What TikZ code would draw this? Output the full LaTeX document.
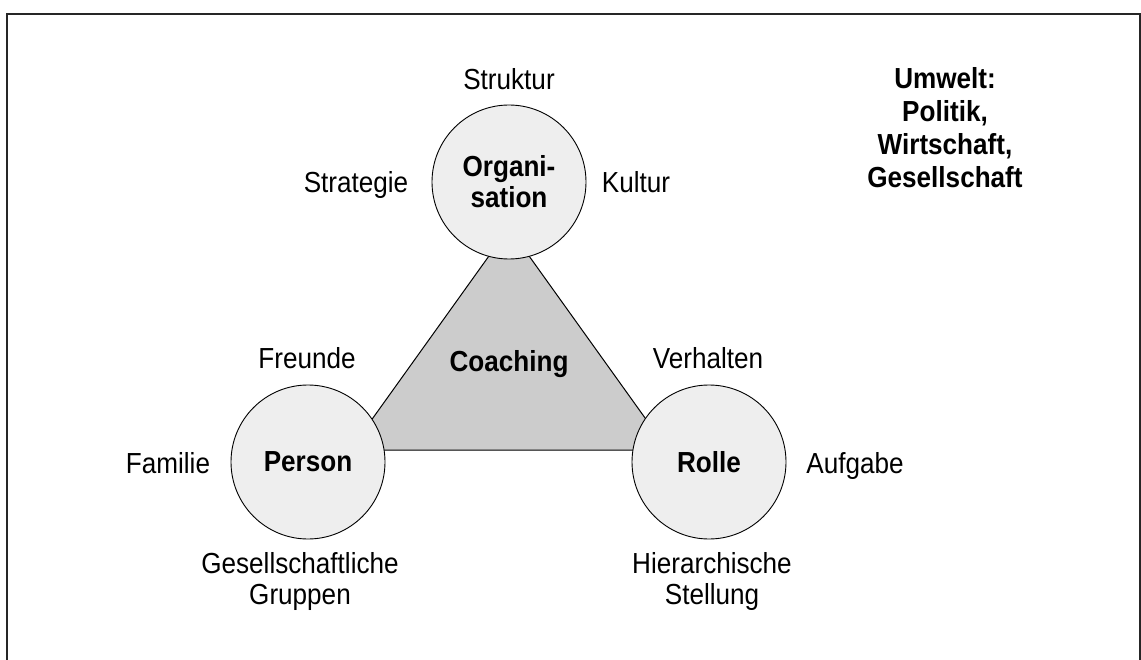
\documentclass[tikz,border=0pt]{standalone}
\usepackage{fontspec}
\setmainfont{Liberation Sans}[FakeStretch=0.9]
\usepackage{xcolor}
\usepackage{tikz}

\definecolor{kreisgrau}{HTML}{EEEEEE}
\definecolor{dreieckgrau}{HTML}{CCCCCC}

\begin{document}
\begin{tikzpicture}[x=1pt, y=-1pt,
    kreis/.style={circle, draw=black, line width=0.9pt, fill=kreisgrau,
        minimum size=154pt, inner sep=0pt, align=center,
        font=\fontsize{29}{31}\selectfont\bfseries},
    beschriftung/.style={inner sep=0pt, align=center,
        font=\fontsize{29}{31}\selectfont},
    fett/.style={inner sep=0pt, align=center,
        font=\fontsize{29}{33}\selectfont\bfseries}]
    \useasboundingbox (0,0) rectangle (1141,660);

    % Rahmen (unten offen)
    \draw[line width=2pt, black!85] (7,660) -- (7,14) -- (1140,14) -- (1140,660);

    % Dreieck Coaching
    \coordinate (spitze) at (509,228);
    \coordinate (links) at (350,450);
    \coordinate (rechts) at (668,450);
    \draw[fill=dreieckgrau, line width=1pt] (spitze) -- (links) -- (rechts) -- cycle;
    \node[fett, anchor=base] (coaching) at (509,371) {Coaching};

    % Die drei Kreise
    \node[kreis] (organisation) at (509,182) {Organi-\\sation};
    \node[kreis] (person) at (308,462) {Person};
    \node[kreis] (rolle) at (709,462) {Rolle};

    % Beschriftungen um Organisation
    \node[beschriftung, anchor=base] (struktur) at (509,90) {Struktur};
    \node[beschriftung, anchor=base] (strategie) at (356,193) {Strategie};
    \node[beschriftung, anchor=base] (kultur) at (636,193) {Kultur};

    % Beschriftungen um Person
    \node[beschriftung, anchor=base] (freunde) at (307,369) {Freunde};
    \node[beschriftung, anchor=base] (familie) at (168,473) {Familie};
    \node[beschriftung] (gruppen) at (300,581) {Gesellschaftliche\\Gruppen};

    % Beschriftungen um Rolle
    \node[beschriftung, anchor=base] (verhalten) at (708,369) {Verhalten};
    \node[beschriftung, anchor=base] (aufgabe) at (855,473) {Aufgabe};
    \node[beschriftung] (stellung) at (712,581) {Hierarchische\\Stellung};

    % Umwelt
    \node[fett] (umwelt) at (945,128) {Umwelt:\\Politik,\\Wirtschaft,\\Gesellschaft};
\end{tikzpicture}
\end{document}
